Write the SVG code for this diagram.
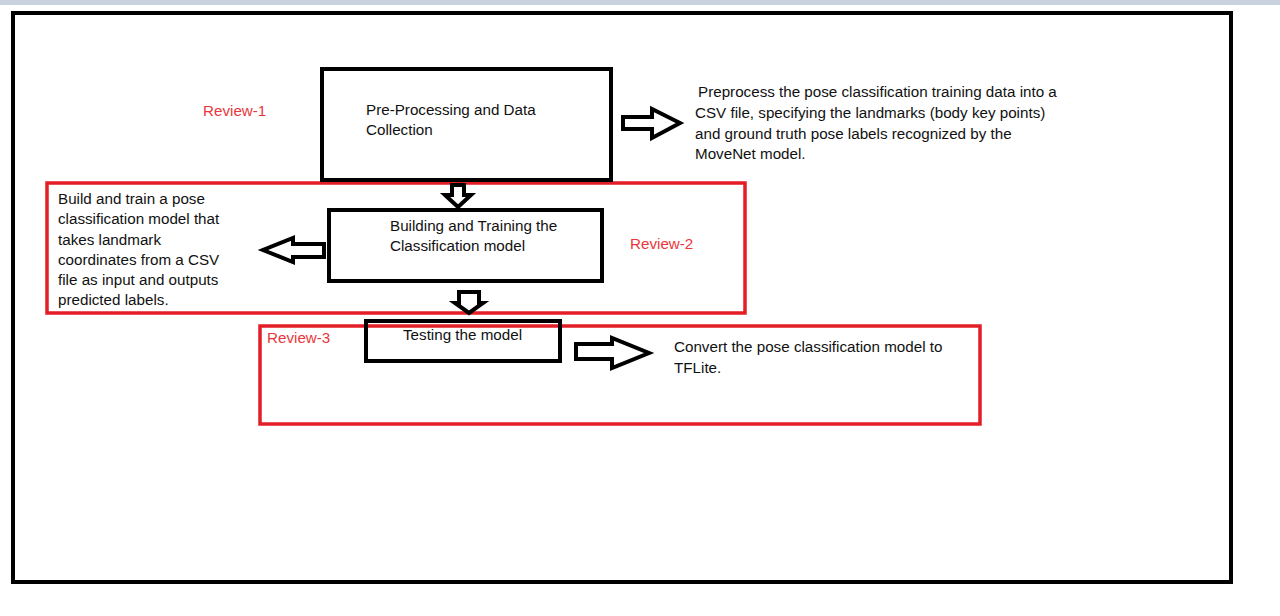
<svg xmlns="http://www.w3.org/2000/svg" width="1280" height="616" viewBox="0 0 1280 616">
<style>
.t{font-family:"Liberation Sans",Arial,sans-serif;font-size:15.2px;fill:#111}
.r{font-family:"Liberation Sans",Arial,sans-serif;font-size:15.2px;fill:#e8373c}
.box{fill:none;stroke:#000;stroke-width:4}
.red{fill:none;stroke:#e31e26;stroke-width:3.5}
.arr{fill:#fff;stroke:#000;stroke-width:4;stroke-linejoin:miter}
</style>
<rect x="0" y="0" width="1280" height="616" fill="#fff"/>
<rect x="0" y="0" width="1280" height="5" fill="#c9d0de"/>
<rect x="13" y="13" width="1218" height="569" class="box"/>
<g id="review2-frame"><rect x="47" y="183" width="698" height="130" class="red"/></g>
<g id="review3-frame"><rect x="260" y="326" width="720" height="98" class="red"/></g>
<g id="preprocessing">
<rect x="322" y="69" width="289" height="111" class="box"/>
<text class="t" x="366" y="115">Pre-Processing and Data</text>
<text class="t" x="366" y="135">Collection</text>
</g>
<g id="review1"><text class="r" x="203" y="116">Review-1</text></g>
<g id="preprocess-desc">
<text class="t" x="698" y="97"> Preprocess the pose classification training data into a</text>
<text class="t" x="695" y="118">CSV file, specifying the landmarks (body key points)</text>
<text class="t" x="695" y="139">and ground truth pose labels recognized by the</text>
<text class="t" x="695" y="159">MoveNet model.</text>
</g>
<g id="building">
<rect x="329" y="210" width="273" height="71" class="box"/>
<text class="t" x="390" y="231">Building and Training the</text>
<text class="t" x="390" y="251">Classification model</text>
</g>
<g id="review2"><text class="r" x="630" y="249">Review-2</text></g>
<g id="building-desc">
<text class="t" x="58" y="204">Build and train a pose</text>
<text class="t" x="58" y="224">classification model that</text>
<text class="t" x="58" y="245">takes landmark</text>
<text class="t" x="58" y="265">coordinates from a CSV</text>
<text class="t" x="58" y="285">file as input and outputs</text>
<text class="t" x="58" y="305">predicted labels.</text>
</g>
<g id="testing">
<rect x="366" y="321" width="194" height="40" class="box"/>
<text class="t" x="403" y="340">Testing the model</text>
</g>
<g id="review3"><text class="r" x="267" y="343">Review-3</text></g>
<g id="testing-desc">
<text class="t" x="674" y="352">Convert the pose classification model to</text>
<text class="t" x="674" y="373">TFLite.</text>
</g>
<g id="connectors">
<polygon class="arr" points="623,117 652,117 652,109 680,123 652,138 652,129 623,129"/>
<polygon class="arr" points="452,185 464,185 464,195 471,195 458,207 445,195 452,195"/>
<polygon class="arr" points="324,244 293,244 293,238 263,250 293,262 293,257 324,257"/>
<polygon class="arr" points="459,292 479,292 479,303 483,303 469,313 455,303 459,303"/>
<polygon class="arr" points="576,344 612,344 612,338 649,353 612,368 612,359 576,359"/>
</g>
</svg>
